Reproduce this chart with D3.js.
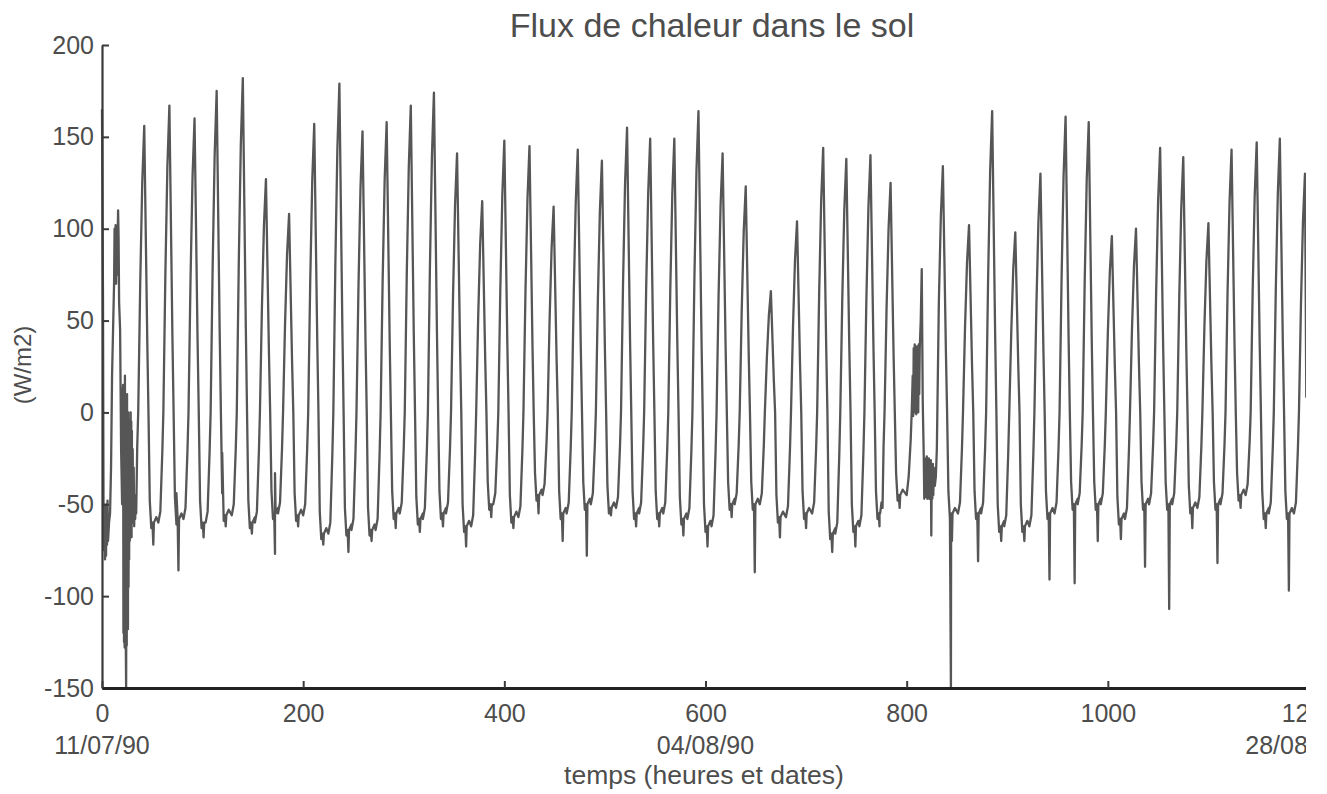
<!DOCTYPE html>
<html>
<head>
<meta charset="utf-8">
<script src="https://cdn.jsdelivr.net/npm/d3@7"></script>
<style>
  body { margin: 0; background: #fff; }
  text { font-family: "Liberation Sans", Arial, Helvetica, sans-serif; fill: #4d4d4d; }
</style>
</head>
<body>
<script>
// daily peaks of the soil heat flux (hour, W/m2)
var peakHour = [42, 67, 92, 114, 140, 163, 186, 211, 236, 259, 283, 307, 330, 353, 378, 400, 425, 449, 473, 497,
  522, 545, 569, 593, 617, 640, 665, 691, 717, 740, 764, 784, 815, 836, 862, 885, 908, 933, 958, 981,
  1004, 1028, 1052, 1075, 1100, 1123, 1148, 1171, 1196];
var peakFlux = [156, 167, 160, 175, 182, 127, 108, 157, 179, 153, 158, 167, 174, 141, 115, 148, 145, 112, 143, 137,
  155, 149, 149, 164, 141, 123, 66, 104, 144, 138, 140, 125, 78, 134, 102, 164, 98, 130, 161, 158,
  96, 100, 144, 139, 103, 143, 147, 149, 130];
// night plateau following each peak, and its lowest spike
var nightFlux = [-60, -58, -60, -56, -60, -55, -56, -66, -64, -64, -55, -58, -55, -62, -50, -57, -45, -55, -50, -52,
  -55, -55, -58, -62, -50, -50, -57, -55, -66, -62, -55, -45, -40, -55, -55, -62, -62, -55, -50, -50,
  -58, -50, -50, -52, -50, -45, -55, -55, -55];
var nightMin = [-72, -86, -68, -62, -66, -77, -62, -72, -76, -70, -63, -65, -62, -73, -57, -63, -55, -70, -78, -56,
  -62, -62, -67, -73, -57, -87, -68, -63, -76, -73, -62, -52, -67, -70, -81, -70, -70, -91, -93, -70,
  -69, -84, -107, -63, -82, -52, -63, -97, -60];

// first day of record, with the noisy burst after the first peak
var startTrace = [[0, 165], [1, 60], [1.5, -50], [2, -75], [2.5, -50], [3, -80], [3.5, -55], [4, -78], [4.5, -50],
  [5, -72], [5.5, -48], [6, -70], [7, -60], [8, -55], [9, -30], [10, 20], [11, 45], [12, 70], [12.5, 100],
  [13, 72], [13.5, 102], [14, 70], [14.5, 100], [15, 75], [16, 110], [16.5, 95], [17, 60], [18, 45], [19, -20],
  [20, -50], [20.5, 10], [21, 15], [21.3, -120], [21.6, 5], [21.9, -125], [22.2, -10], [22.5, -128], [22.8, 20],
  [23.1, -110], [23.4, -30], [23.7, -130], [24, -150], [24.3, -60], [24.6, -127], [24.9, 10], [25.2, -100],
  [25.5, -20], [25.8, -118], [26.1, 0], [26.4, -95], [26.7, -15], [27, -80], [27.3, -5], [27.6, -70],
  [27.9, -10], [28.2, -65], [28.5, 0], [28.8, -60], [29.1, -5], [29.4, -68], [29.7, -10], [30, -55],
  [30.5, -20], [31, -60], [31.5, -30], [32, -62], [32.5, -45], [33, -58], [33.5, -50], [34, -55]];
// disturbed days around hour 800
var burstTrace = [[800, -45], [802, -35], [804, -15], [805, 0], [806, 20], [806.5, -2], [807, 35], [807.5, 5],
  [808, 37], [808.5, 0], [809, 30], [809.5, -1], [810, 36], [810.5, 5], [811, 32], [811.5, 0], [812, 37],
  [812.5, 10], [813, 35], [814, 50], [815, 78], [815.5, 40], [816, 5], [817, -24], [817.5, -47], [818, -25],
  [818.5, -45], [819, -26], [819.5, -46], [820, -24], [820.5, -47], [821, -28], [821.5, -45], [822, -25],
  [822.5, -47], [823, -30], [823.5, -46], [824, -26], [824.5, -67], [825, -30], [825.5, -47], [826, -28],
  [826.5, -45], [827, -30], [828, -40], [829, -35], [830, -20]];
var spikes = [[74, -44], [119.5, -22], [172, -33], [844, -150]];
var endTrace = [[1196.8, 60], [1197.3, 8]];

var yTicks = [-150, -100, -50, 0, 50, 100, 150, 200];
var xTicks = [0, 200, 400, 600, 800, 1000, 1200];
var dateHours = [0, 600, 1185];
var dateLabels = ["11/07/90", "04/08/90", "28/08/90"];

var width = 1306, height = 794;

var x = d3.scaleLinear().domain([0, 1200]).range([102, 1309]);
var y = d3.scaleLinear().domain([-150, 200]).range([688, 45]);

var svg = d3.select("body").append("svg")
    .attr("width", width)
    .attr("height", height);

// build the trace: one daily shape through each peak and night plateau
var pts = [];
peakHour.forEach(function(p, i) {
  var P = peakFlux[i];
  var L0 = i === 0 ? -55 : nightFlux[i - 1];
  var L1 = nightFlux[i];
  pts.push([p - 11, L0], [p - 9, L0 + 6], [p - 7, L0 * 0.35], [p - 6, 0], [p - 4, 0.45 * P],
    [p - 2, 0.8 * P], [p, P], [p + 1, 0.75 * P], [p + 3, 0.25 * P], [p + 4.2, 0],
    [p + 5.5, L1 + 12], [p + 7, L1 - 3], [p + 8.2, L1],
    [p + 9, nightMin[i]], [p + 9.6, L1], [p + 12, L1 + 3]);
});
pts = pts.filter(function(d) {
  return d[0] > 34.5 && !(d[0] >= 799.5 && d[0] <= 830.5) && d[0] <= 1196.5;
});
pts = pts.concat(startTrace, burstTrace, spikes, endTrace);
pts.sort(function(a, b) { return a[0] - b[0]; });

var line = d3.line()
    .x(function(d) { return x(d[0]); })
    .y(function(d) { return y(d[1]); });

svg.append("path")
    .datum(pts)
    .attr("d", line)
    .attr("fill", "none")
    .attr("stroke", "#565656")
    .attr("stroke-width", 2.3)
    .attr("stroke-linejoin", "round");

// axes
var fmt = function(d) { return String(d); };
var yAxis = d3.axisLeft(y).tickValues(yTicks).tickFormat(fmt).tickSize(-7).tickSizeOuter(0).tickPadding(8);
var gy = svg.append("g").attr("transform", "translate(102,0)").call(yAxis);
var xAxis = d3.axisBottom(x).tickValues(xTicks).tickFormat(fmt).tickSize(-7).tickSizeOuter(0).tickPadding(16);
var gx = svg.append("g").attr("transform", "translate(0,688)").call(xAxis);

[gy, gx].forEach(function(g) {
  g.selectAll("text").style("font-size", "25px");
  g.select(".domain").attr("stroke", "#3a3a3a").attr("stroke-width", 2.2);
  g.selectAll(".tick line").attr("stroke", "#3a3a3a").attr("stroke-width", 2);
});
gx.select(".domain").attr("stroke-width", 2.8).attr("stroke", "#222");

// dates under the hour ticks
svg.selectAll(".date")
  .data(dateHours)
  .enter().append("text")
    .attr("class", "date")
    .attr("x", function(d) { return x(d); })
    .attr("y", 754)
    .attr("text-anchor", "middle")
    .style("font-size", "25px")
    .text(function(d, i) { return dateLabels[i]; });

svg.append("text")
    .attr("x", 704).attr("y", 784)
    .attr("text-anchor", "middle")
    .style("font-size", "26.5px")
    .text("temps (heures et dates)");

svg.append("text")
    .attr("transform", "translate(31,365) rotate(-90)")
    .attr("text-anchor", "middle")
    .style("font-size", "24px")
    .text("(W/m2)");

svg.append("text")
    .attr("x", 712).attr("y", 37)
    .attr("text-anchor", "middle")
    .style("font-size", "34px")
    .text("Flux de chaleur dans le sol");
</script>
</body>
</html>
